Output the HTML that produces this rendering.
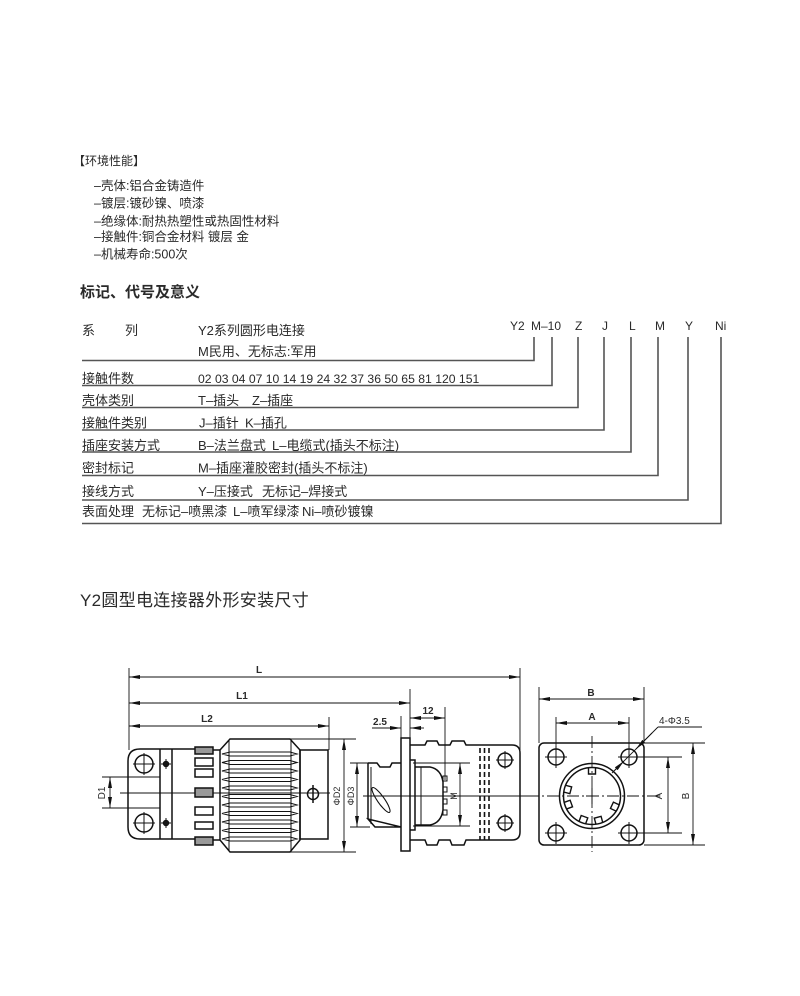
<!DOCTYPE html>
<html><head><meta charset="utf-8">
<style>
html,body{margin:0;padding:0;background:#fff;}
svg{display:block;}
text{font-family:"Liberation Sans","Noto Sans CJK SC",sans-serif;fill:#2a2a2a;}
.t{font-size:13px;}
.d{font-size:10px;fill:#222;}
</style></head><body>
<svg width="800" height="996" viewBox="0 0 800 996" xmlns="http://www.w3.org/2000/svg">
<defs>
<marker id="a" viewBox="0 0 11 4" refX="11" refY="2" markerWidth="11" markerHeight="4" markerUnits="userSpaceOnUse" orient="auto-start-reverse"><path d="M0,0 L11,2 L0,4 Z" fill="#111"/></marker>
</defs>
<rect width="800" height="996" fill="#fff"/>

<!-- top spec list -->
<text x="73" y="165" font-size="12">【环境性能】</text>
<g font-size="12.5">
<text x="94" y="190">–壳体:铝合金铸造件</text>
<text x="94" y="207.5">–镀层:镀砂镍、喷漆</text>
<text x="94" y="225.5">–绝缘体:耐热热塑性或热固性材料</text>
<text x="94" y="241">–接触件:铜合金材料  镀层  金</text>
<text x="94" y="258.5">–机械寿命:500次</text>
</g>
<text x="80" y="297" font-size="15" font-weight="bold">标记、代号及意义</text>

<!-- table -->
<g class="t">
<text x="82" y="335">系</text><text x="125" y="335">列</text>
<text x="198" y="335">Y2系列圆形电连接</text>
<text x="198" y="356">M民用、无标志:军用</text>
<text x="82" y="383">接触件数</text>
<text x="198" y="383" font-size="12.2">02 03 04 07 10 14 19 24 32 37 36 50 65 81 120 151</text>
<text x="82" y="405">壳体类别</text>
<text x="198" y="405">T–插头</text><text x="252" y="405">Z–插座</text>
<text x="82" y="427.5">接触件类别</text>
<text x="199" y="427.5">J–插针</text><text x="245" y="427.5">K–插孔</text>
<text x="82" y="450">插座安装方式</text>
<text x="198" y="450">B–法兰盘式</text><text x="272" y="450">L–电缆式(插头不标注)</text>
<text x="82" y="472.5">密封标记</text>
<text x="198" y="472.5">M–插座灌胶密封(插头不标注)</text>
<text x="82" y="496">接线方式</text>
<text x="198" y="496">Y–压接式</text><text x="262" y="496">无标记–焊接式</text>
<text x="82" y="516">表面处理</text>
<text x="142" y="516">无标记–喷黑漆</text>
<text x="233" y="516">L–喷军绿漆</text>
<text x="302" y="516">Ni–喷砂镀镍</text>
</g>
<g font-size="12">
<text x="510" y="330">Y2</text>
<text x="531" y="330">M–10</text>
<text x="575" y="330">Z</text>
<text x="602" y="330">J</text>
<text x="629" y="330">L</text>
<text x="655" y="330">M</text>
<text x="685" y="330">Y</text>
<text x="715" y="330">Ni</text>
</g>
<g stroke="#555" stroke-width="1.6" fill="none">
<path d="M82,360.5 H534 V337"/>
<path d="M82,385.5 H552 V337"/>
<path d="M82,407.5 H578 V337"/>
<path d="M82,430 H604 V337"/>
<path d="M82,452 H631 V337"/>
<path d="M82,475.5 H658 V337"/>
<path d="M82,500 H688 V337"/>
<path d="M82,523.5 H721 V337"/>
</g>

<!-- drawing title -->
<text x="80" y="606" font-size="17" letter-spacing="0.3">Y2圆型电连接器外形安装尺寸</text>

<!-- dimension lines (thin) -->
<g stroke="#111" stroke-width="0.9" fill="none">
<line x1="129" y1="668" x2="129" y2="750"/>
<line x1="129" y1="677" x2="520" y2="677" marker-start="url(#a)" marker-end="url(#a)"/>
<line x1="129" y1="703" x2="410" y2="703" marker-start="url(#a)" marker-end="url(#a)"/>
<line x1="129" y1="726" x2="329" y2="726" marker-start="url(#a)" marker-end="url(#a)"/>
<line x1="520" y1="668" x2="520" y2="750"/>
<line x1="410" y1="689" x2="410" y2="738"/>
<line x1="329" y1="717" x2="329" y2="750"/>
<line x1="401" y1="716" x2="401" y2="738"/>
<line x1="445" y1="707" x2="445" y2="780"/>
<line x1="410" y1="718" x2="445" y2="718" marker-start="url(#a)" marker-end="url(#a)"/>
<line x1="372" y1="728" x2="401" y2="728" marker-end="url(#a)"/>
<line x1="424" y1="728" x2="410" y2="728" marker-end="url(#a)"/>
<!-- D1 -->
<line x1="102" y1="777" x2="160" y2="777"/>
<line x1="102" y1="808" x2="160" y2="808"/>
<line x1="110" y1="777" x2="110" y2="808" marker-start="url(#a)" marker-end="url(#a)"/>
<line x1="120" y1="793" x2="330" y2="793"/>
<!-- D2 D3 -->
<line x1="290" y1="739" x2="356" y2="739"/>
<line x1="290" y1="852" x2="356" y2="852"/>
<line x1="344" y1="739" x2="344" y2="852" marker-start="url(#a)" marker-end="url(#a)"/>
<line x1="350" y1="763" x2="370" y2="763"/>
<line x1="350" y1="827" x2="370" y2="827"/>
<line x1="357" y1="763" x2="357" y2="827" marker-start="url(#a)" marker-end="url(#a)"/>
<!-- M -->
<line x1="413" y1="763" x2="470" y2="763"/>
<line x1="413" y1="826" x2="470" y2="826"/>
<line x1="460" y1="763" x2="460" y2="826" marker-start="url(#a)" marker-end="url(#a)"/>
<line x1="363" y1="796" x2="527" y2="796"/>
<!-- right view dims -->
<line x1="539" y1="687" x2="539" y2="743"/>
<line x1="644" y1="687" x2="644" y2="743"/>
<line x1="539" y1="699" x2="644" y2="699" marker-start="url(#a)" marker-end="url(#a)"/>
<line x1="556" y1="717" x2="556" y2="750"/>
<line x1="629" y1="717" x2="629" y2="750"/>
<line x1="556" y1="723" x2="629" y2="723" marker-start="url(#a)" marker-end="url(#a)"/>
<line x1="630" y1="757" x2="682" y2="757"/>
<line x1="630" y1="833" x2="682" y2="833"/>
<line x1="668" y1="757" x2="668" y2="833" marker-start="url(#a)" marker-end="url(#a)"/>
<line x1="644" y1="743" x2="705" y2="743"/>
<line x1="644" y1="845" x2="705" y2="845"/>
<line x1="693" y1="743" x2="693" y2="845" marker-start="url(#a)" marker-end="url(#a)"/>
<line x1="658" y1="727" x2="702" y2="727"/>
<line x1="658" y1="727" x2="615" y2="770"/>
<line x1="652" y1="733" x2="636" y2="749" marker-end="url(#a)"/>
<line x1="612" y1="773" x2="624" y2="761" marker-end="url(#a)"/>
<line x1="527" y1="796" x2="660" y2="796" stroke-dasharray="12,3,2,3"/>
<line x1="592" y1="736" x2="592" y2="852" stroke-dasharray="12,3,2,3"/>
</g>

<!-- dimension labels -->
<g class="d" font-weight="bold">
<text x="259" y="673" text-anchor="middle">L</text>
<text x="242" y="699" text-anchor="middle">L1</text>
<text x="207" y="722" text-anchor="middle">L2</text>
<text x="428" y="714" text-anchor="middle">12</text>
<text x="380" y="725" text-anchor="middle">2.5</text>
<text x="591" y="696" text-anchor="middle">B</text>
<text x="592" y="720" text-anchor="middle">A</text>
<text x="659" y="724" font-weight="normal">4-Φ3.5</text>
</g>
<g class="d">
<text transform="translate(105,793) rotate(-90)" text-anchor="middle">D1</text>
<text transform="translate(340,796) rotate(-90)" text-anchor="middle" font-size="9">ΦD2</text>
<text transform="translate(354,796) rotate(-90)" text-anchor="middle" font-size="9">ΦD3</text>
<text transform="translate(457,796) rotate(-90)" text-anchor="middle" font-size="9">M</text>
<text transform="translate(662,796) rotate(-90)" text-anchor="middle">A</text>
<text transform="translate(689,796) rotate(-90)" text-anchor="middle">B</text>
</g>

<!-- outlines -->
<g stroke="#111" stroke-width="1.5" fill="none">
<!-- left view flange -->
<path d="M195,749 L140,749 Q128,749 128,761 L128,827 Q128,839 140,839 L195,839"/>
<line x1="160" y1="749" x2="160" y2="839"/>
<line x1="172" y1="749" x2="172" y2="839"/>
<circle cx="144" cy="764" r="9"/>
<circle cx="144" cy="823" r="9"/>
<circle cx="166" cy="764" r="2.5" fill="#222"/>
<circle cx="166" cy="823" r="2.5" fill="#222"/>
<!-- cage rects -->
<rect x="195" y="747" width="18" height="7" fill="#999"/>
<rect x="195" y="758" width="18" height="8"/>
<rect x="195" y="769" width="18" height="8"/>
<rect x="195" y="788" width="18" height="9" fill="#999"/>
<rect x="195" y="807" width="18" height="8"/>
<rect x="195" y="822" width="18" height="7"/>
<rect x="195" y="837" width="18" height="8" fill="#999"/>
<line x1="213" y1="750" x2="220" y2="750"/>
<line x1="213" y1="840" x2="220" y2="840"/>
<!-- knurl -->
<path d="M220,750 L230,739 L290,739 L300,750 L300,840 L290,852 L230,852 L220,840 Z"/>
<line x1="229" y1="741" x2="229" y2="850" stroke-width="1"/>
<line x1="291" y1="741" x2="291" y2="850" stroke-width="1"/>
<g stroke-width="1.1">
<path d="M230,752 L290,752 L297,754 L290,756 L230,756 L222,754 Z"/>
<path d="M230,760.5 L290,760.5 L297,762.5 L290,764.5 L230,764.5 L222,762.5 Z"/>
<path d="M230,769 L290,769 L297,771 L290,773 L230,773 L222,771 Z"/>
<path d="M230,777.5 L290,777.5 L297,779.5 L290,781.5 L230,781.5 L222,779.5 Z"/>
<path d="M230,786 L290,786 L297,788 L290,790 L230,790 L222,788 Z"/>
<path d="M230,794.5 L290,794.5 L297,796.5 L290,798.5 L230,798.5 L222,796.5 Z"/>
<path d="M230,803 L290,803 L297,805 L290,807 L230,807 L222,805 Z"/>
<path d="M230,811.5 L290,811.5 L297,813.5 L290,815.5 L230,815.5 L222,813.5 Z"/>
<path d="M230,820 L290,820 L297,822 L290,824 L230,824 L222,822 Z"/>
<path d="M230,828.5 L290,828.5 L297,830.5 L290,832.5 L230,832.5 L222,830.5 Z"/>
<path d="M230,837 L290,837 L297,839 L290,841 L230,841 L222,839 Z"/>
</g>
<rect x="300" y="750" width="28" height="89"/>
<circle cx="313" cy="794" r="5.5"/>
<line x1="313" y1="785" x2="313" y2="803"/>

<!-- middle view -->
<path d="M368,763 L377,763 L380,767 L390,767 L392,763 L401,763 M401,827 L375,827 L368,819 Z"/>
<path d="M368,763 L368,819"/>
<line x1="371" y1="767" x2="371" y2="824" stroke-width="1"/>
<ellipse cx="381" cy="800" rx="3.5" ry="15" transform="rotate(-35 381 800)" stroke-width="1.1"/>
<rect x="401" y="738" width="9" height="113"/>
<path d="M410,745 L425,745 L427,741 L437,741 L439,745 L450,745 L452,741 L464,741 L466,745 L512,745 Q520,745 520,753 L520,832 Q520,840 512,840 L466,840 L464,845 L452,845 L450,840 L439,840 L437,845 L427,845 L425,840 L410,840"/>
<path d="M410,760 L415,760 L415,830 L410,830"/>
<path d="M415,767 L430,767 Q441,769 443,782 L443,810 Q441,823 430,825 L415,825"/>
<line x1="421" y1="767" x2="421" y2="825" stroke-width="1"/>
<g stroke-width="1">
<rect x="443" y="776" width="4" height="5"/>
<rect x="443" y="787" width="4" height="5"/>
<rect x="443" y="799" width="4" height="5"/>
<rect x="443" y="810" width="4" height="5"/>
</g>
<g stroke-dasharray="5,3" stroke-width="1.6">
<line x1="480" y1="748" x2="480" y2="840"/>
<line x1="484.5" y1="748" x2="484.5" y2="840"/>
<line x1="489" y1="748" x2="489" y2="840"/>
</g>
<circle cx="505" cy="760" r="7"/>
<circle cx="505" cy="823" r="7"/>

<!-- right view -->
<rect x="539" y="743" width="105" height="102" rx="5"/>
<circle cx="556" cy="757" r="8"/>
<circle cx="629" cy="757" r="8"/>
<circle cx="556" cy="833" r="8"/>
<circle cx="629" cy="833" r="8"/>
<circle cx="592" cy="796" r="32.5"/>
<circle cx="592" cy="796" r="28.5"/>
<g transform="translate(592,796)" stroke-width="1.4">
<path d="M-3.5,-28.5 L-3.5,-22 L3.5,-22 L3.5,-28.5" transform="rotate(0)"/>
<path d="M-3.5,-28.5 L-3.5,-22 L3.5,-22 L3.5,-28.5" transform="rotate(-75)"/>
<path d="M-3.5,-28.5 L-3.5,-22 L3.5,-22 L3.5,-28.5" transform="rotate(-110)"/>
<path d="M-3.5,-28.5 L-3.5,-22 L3.5,-22 L3.5,-28.5" transform="rotate(-160)"/>
<path d="M-3.5,-28.5 L-3.5,-22 L3.5,-22 L3.5,-28.5" transform="rotate(165)"/>
<path d="M-3.5,-28.5 L-3.5,-22 L3.5,-22 L3.5,-28.5" transform="rotate(115)"/>
</g>
</g>

<!-- hole crosses / center marks -->
<g stroke="#111" stroke-width="1">
<line x1="133" y1="764" x2="155" y2="764"/><line x1="144" y1="753" x2="144" y2="775"/>
<line x1="133" y1="823" x2="155" y2="823"/><line x1="144" y1="812" x2="144" y2="834"/>
<line x1="161" y1="764" x2="171" y2="764"/><line x1="166" y1="759" x2="166" y2="769"/>
<line x1="161" y1="823" x2="171" y2="823"/><line x1="166" y1="818" x2="166" y2="828"/>
<line x1="496" y1="760" x2="514" y2="760"/><line x1="505" y1="751" x2="505" y2="769"/>
<line x1="496" y1="823" x2="514" y2="823"/><line x1="505" y1="814" x2="505" y2="832"/>
<line x1="545" y1="757" x2="567" y2="757"/><line x1="556" y1="746" x2="556" y2="768"/>
<line x1="618" y1="757" x2="640" y2="757"/><line x1="629" y1="746" x2="629" y2="768"/>
<line x1="545" y1="833" x2="567" y2="833"/><line x1="556" y1="822" x2="556" y2="844"/>
<line x1="618" y1="833" x2="640" y2="833"/><line x1="629" y1="822" x2="629" y2="844"/>
<line x1="586" y1="796" x2="598" y2="796"/><line x1="592" y1="788" x2="592" y2="804"/>
</g>
</svg>
</body></html>
